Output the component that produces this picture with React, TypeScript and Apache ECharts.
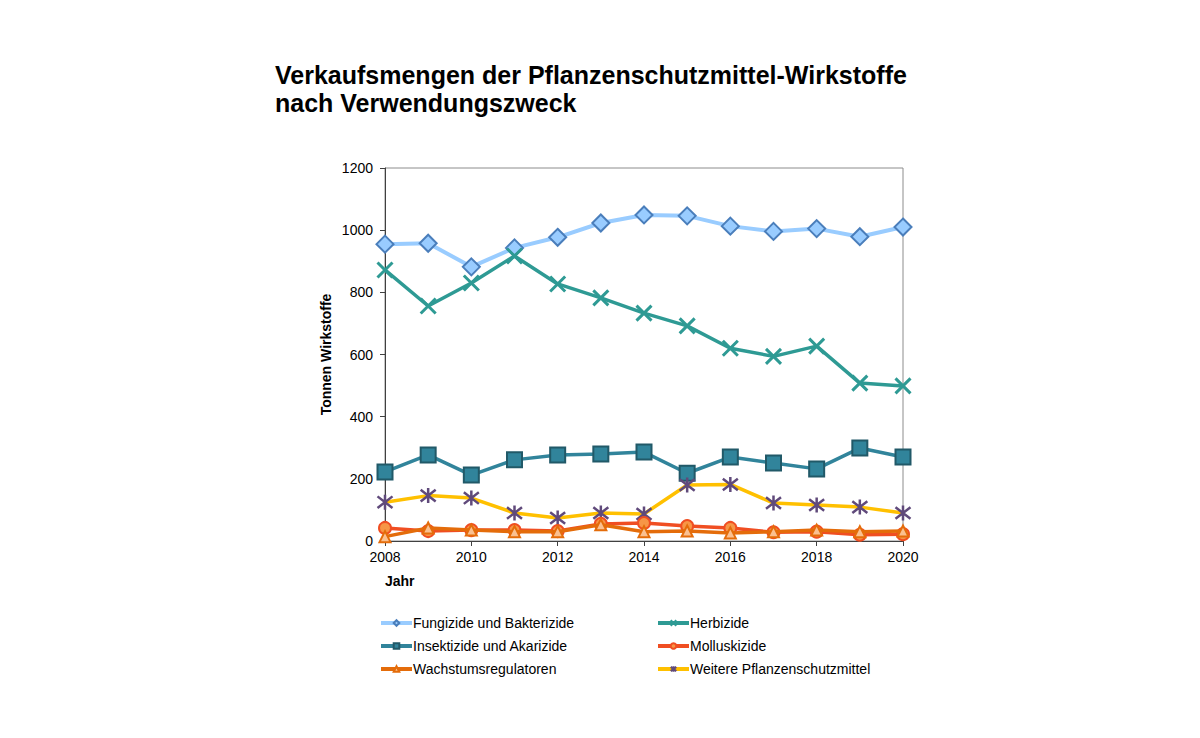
import React, { useEffect, useRef } from "react";
import * as echarts from "echarts";

const years = [2008, 2009, 2010, 2011, 2012, 2013, 2014, 2015, 2016, 2017, 2018, 2019, 2020];
const fungizide = [955, 958, 882, 943, 977, 1023, 1049, 1046, 1013, 996, 1005, 979, 1010];
const herbizide = [872, 756, 830, 917, 827, 782, 733, 692, 620, 594, 627, 508, 499];
const insektizide = [222, 277, 212, 261, 277, 280, 286, 218, 270, 251, 232, 299, 270];
const molluskizide = [42, 32, 35, 35, 32, 55, 58, 48, 42, 28, 30, 20, 22];
const wachstum = [14, 42, 35, 30, 30, 52, 30, 32, 26, 30, 35, 30, 32];
const weitere = [125, 146, 138, 90, 74, 90, 87, 180, 182, 122, 116, 109, 90];
const yTicks = [0, 200, 400, 600, 800, 1000, 1200];

const FONT = "'Liberation Sans', Arial, Helvetica, sans-serif";

const X_PATH = "path://M0,0 L10,10 M10,0 L0,10";
const STAR_PATH = "path://M0,0 L10,10 M10,0 L0,10 M5,-1.5 L5,11.5";

function pairs(vals: number[]) {
  return years.map((y, i) => [y, vals[i]]);
}

const legendText = { fontSize: 14, color: "#000", fontFamily: FONT, padding: [0, 0, 0, -4] };

export default function App() {
  const ref = useRef<HTMLDivElement>(null);
  useEffect(() => {
    if (!ref.current) return;
    const chart = echarts.init(ref.current, null, { renderer: "svg" });
    const legendCommon = {
      orient: "vertical",
      top: 603,
      itemWidth: 31,
      itemHeight: 7,
      itemGap: 9,
      textStyle: legendText,
      lineStyle: { width: 4 },
    };
    const option: any = {
      animation: false,
      backgroundColor: "#ffffff",
      textStyle: { fontFamily: FONT },
      title: {
        text: "Verkaufsmengen der Pflanzenschutzmittel-Wirkstoffe\nnach Verwendungszweck",
        left: 262,
        top: 48,
        textStyle: { fontFamily: FONT, fontSize: 25, fontWeight: "bold", color: "#000", lineHeight: 28 },
      },
      grid: {
        left: 377,
        right: 289,
        top: 160,
        bottom: 189,
        show: true,
        borderColor: "#8c8c8c",
        borderWidth: 1,
        backgroundColor: "transparent",
      },
      xAxis: {
        type: "value",
        min: 2008,
        max: 2020,
        interval: 2,
        axisLine: { show: true, lineStyle: { color: "#404040", width: 1 } },
        axisTick: { show: true, length: 5, lineStyle: { color: "#404040" } },
        axisLabel: { color: "#000", fontSize: 14, fontFamily: FONT, margin: 9, formatter: (v: number) => String(v) },
        splitLine: { show: false },
      },
      yAxis: {
        type: "value",
        min: 0,
        max: 1200,
        interval: 200,
        axisLine: { show: true, lineStyle: { color: "#404040", width: 1 } },
        axisTick: { show: true, length: 5, lineStyle: { color: "#404040" } },
        axisLabel: { color: "#000", fontSize: 14, fontFamily: FONT, margin: 12, formatter: (v: number) => (yTicks.includes(v) ? String(v) : "") },
        splitLine: { show: false },
        name: "Tonnen Wirkstoffe",
        nameLocation: "middle",
        nameGap: 52,
        nameTextStyle: { color: "#000", fontSize: 14, fontWeight: "bold", fontFamily: FONT },
      },
      legend: [
        {
          ...legendCommon,
          left: 366,
          data: ["Fungizide und Bakterizide", "Insektizide und Akarizide", "Wachstumsregulatoren"],
        },
        {
          ...legendCommon,
          left: 643,
          data: ["Herbizide", "Molluskizide", "Weitere Pflanzenschutzmittel"],
        },
      ],
      graphic: [
        {
          type: "text",
          left: 377,
          top: 566,
          style: { text: "Jahr", fontSize: 14, fontWeight: "bold", fontFamily: FONT, fill: "#000" },
        },
      ],
      series: [
        {
          name: "Fungizide und Bakterizide",
          type: "line",
          data: pairs(fungizide),
          symbol: "diamond",
          symbolSize: 17,
          lineStyle: { color: "#99CCFF", width: 4 },
          itemStyle: { color: "#99CCFF", borderColor: "#4A7EBB", borderWidth: 2 },
          z: 2,
        },
        {
          name: "Herbizide",
          type: "line",
          data: pairs(herbizide),
          symbol: X_PATH,
          symbolSize: 15,
          lineStyle: { color: "#2E9A94", width: 3.5 },
          itemStyle: { color: "#2E9A94", borderColor: "#2E9A94", borderWidth: 3 },
          z: 3,
        },
        {
          name: "Insektizide und Akarizide",
          type: "line",
          data: pairs(insektizide),
          symbol: "rect",
          symbolSize: 15,
          lineStyle: { color: "#31849B", width: 3.5 },
          itemStyle: { color: "#31849B", borderColor: "#215968", borderWidth: 2 },
          z: 4,
        },
        {
          name: "Weitere Pflanzenschutzmittel",
          type: "line",
          data: pairs(weitere),
          symbol: STAR_PATH,
          symbolSize: 15,
          lineStyle: { color: "#FFC000", width: 3.5 },
          itemStyle: { color: "#604A7B", borderColor: "#604A7B", borderWidth: 2.5 },
          z: 5,
        },
        {
          name: "Molluskizide",
          type: "line",
          data: pairs(molluskizide),
          symbol: "circle",
          symbolSize: 12,
          lineStyle: { color: "#F04E22", width: 3.5 },
          itemStyle: { color: "#F79646", borderColor: "#F04E22", borderWidth: 2 },
          z: 6,
        },
        {
          name: "Wachstumsregulatoren",
          type: "line",
          data: pairs(wachstum),
          symbol: "triangle",
          symbolSize: 11,
          lineStyle: { color: "#E46C0A", width: 3.5 },
          itemStyle: { color: "#FAC090", borderColor: "#E46C0A", borderWidth: 2 },
          z: 7,
        },
      ],
    };
    chart.setOption(option);
    return () => chart.dispose();
  }, []);
  return <div ref={ref} style={{ width: 1184, height: 722 }} />;
}
